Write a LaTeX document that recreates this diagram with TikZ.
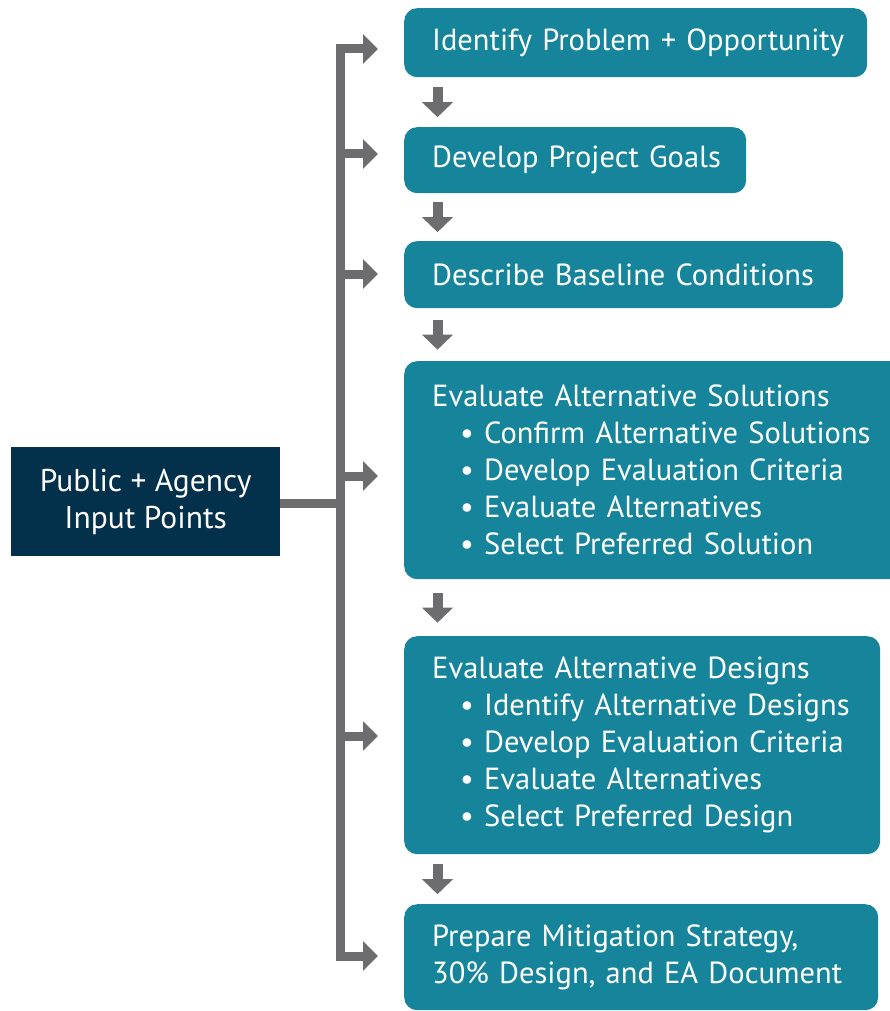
\documentclass[tikz,border=0pt]{standalone}
\usepackage{fontspec}
\setmainfont{PT Sans}
\usetikzlibrary{arrows.meta,calc}
\definecolor{teal1}{HTML}{16859B}
\definecolor{navy1}{HTML}{03304A}
\definecolor{gray1}{HTML}{6D6D6F}
\tikzset{
  stepbox/.style={fill=teal1, rounded corners=13pt, anchor=north west, text=white,
    font=\fontsize{30.5}{37}\selectfont, align=left, inner xsep=0pt, inner ysep=0pt},
  inputbox/.style={fill=navy1, anchor=north west, text=white,
    font=\fontsize{31.5}{37}\selectfont, align=center, minimum width=269pt, minimum height=109pt, inner sep=0pt},
  bar/.style={draw=gray1, line width=9pt, line join=miter},
  branch/.style={bar, -{Triangle[width=29pt,length=15pt]}},
  downarrow/.style={draw=gray1, line width=10pt, -{Triangle[width=30pt,length=15pt]}},
}
\newcommand{\boxline}[1]{\hspace*{28pt}#1}
\newcommand{\bul}[1]{\hspace*{56pt}\makebox[24pt][l]{•}#1}
\begin{document}
\begin{tikzpicture}[x=1pt,y=1pt]
\useasboundingbox (0,0) rectangle (890,-1011);
\node[stepbox, minimum height=69pt, text width=463pt] (b1) at (404,-8) {\boxline{Identify Problem + Opportunity}};
\node[stepbox, minimum height=66pt, text width=342pt] (b2) at (404,-127) {\boxline{Develop Project Goals}};
\node[stepbox, minimum height=67pt, text width=439pt] (b3) at (404,-241) {\boxline{Describe Baseline Conditions}};
\node[stepbox, minimum height=218pt, text width=500pt] (b4) at (404,-361) {\boxline{Evaluate Alternative Solutions}\\
\bul{Confirm Alternative Solutions}\\
\bul{Develop Evaluation Criteria}\\
\bul{Evaluate Alternatives}\\
\bul{Select Preferred Solution}};
\node[stepbox, minimum height=218pt, text width=476pt] (b5) at (404,-636) {\boxline{Evaluate Alternative Designs}\\
\bul{Identify Alternative Designs}\\
\bul{Develop Evaluation Criteria}\\
\bul{Evaluate Alternatives}\\
\bul{Select Preferred Design}};
\node[stepbox, minimum height=106pt, text width=474pt] (b6) at (404,-904) {\boxline{Prepare Mitigation Strategy,}\\\boxline{30\% Design, and EA Document}};
\node[inputbox] (inp) at (11,-447) {Public + Agency\\Input Points};
% trunk
\coordinate (T) at (340.5,-503);
\coordinate (y1) at (0,-49);
\coordinate (y2) at (0,-154);
\coordinate (y3) at (0,-274);
\coordinate (y4) at (0,-476);
\coordinate (y5) at (0,-736);
\coordinate (y6) at (0,-956);
\coordinate (X) at (437.5,0);
\draw[bar] (inp.east |- T) -- (T);
\draw[branch, shorten >=26pt] (T) |- (b1.west |- y1);
\draw[branch, shorten >=26pt] (T) |- (b6.west |- y6);
\foreach \i in {2,3,4,5}{
  \draw[branch, shorten >=26pt] (T |- y\i) -- (b\i.west |- y\i);
}
\foreach \a/\b in {b1/b2,b2/b3,b3/b4,b4/b5,b5/b6}{
  \draw[downarrow] ($(\a.south -| X)!0.5!(\b.north -| X) + (0,15)$) -- ++(0,-30);
}
\end{tikzpicture}
\end{document}
